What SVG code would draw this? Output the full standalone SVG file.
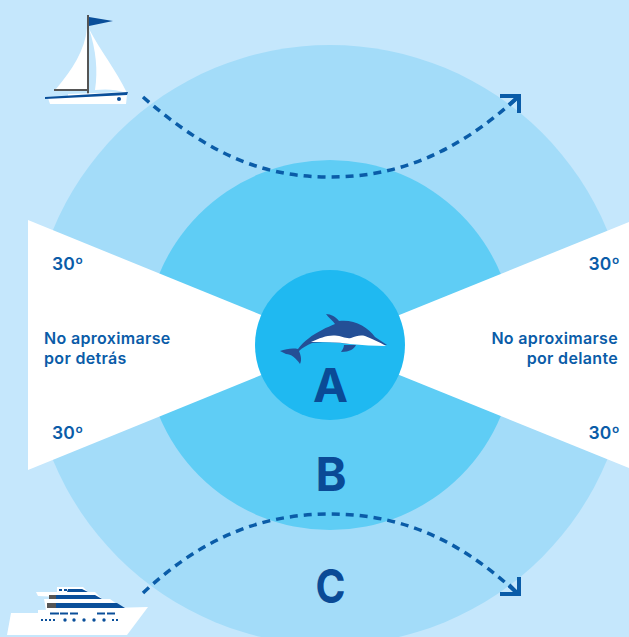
<svg xmlns="http://www.w3.org/2000/svg" width="629" height="637" viewBox="0 0 629 637">
<style>
.lbl{font-family:Inter,"Liberation Sans",sans-serif;font-weight:600;font-size:16px;letter-spacing:.33px;fill:#0a5ca8}
.deg{font-size:17.5px;letter-spacing:.2px}
.zone{font-family:Inter,"Liberation Sans",sans-serif;font-weight:700;font-size:47px;fill:#0a4a96;text-anchor:middle}
.route{fill:none;stroke:#0a5ca8;stroke-width:3.5;stroke-dasharray:8 6}
.head{fill:none;stroke:#0a5ca8;stroke-width:4}
.w{fill:#fff}.b{fill:#0a4f9a}.g{fill:#555}
</style>
<rect width="629" height="637" fill="#c5e7fc"/>
<g id="zone-c"><circle cx="330" cy="345" r="300" fill="#a3dcf9"/><text class="zone" x="330.500" y="603" textLength="30" lengthAdjust="spacingAndGlyphs">C</text></g>
<g id="zone-b"><circle cx="330" cy="345" r="185" fill="#5fcdf5"/></g>
<g id="wedge-left"><polygon class="w" points="28,220 330,343 330,347 28,470"/></g>
<g id="wedge-right"><polygon class="w" points="629,222 330,343 330,347 629,468"/></g>
<g id="zone-a"><circle cx="330" cy="345" r="75" fill="#1fb9f1"/><text class="zone" x="330.500" y="402">A</text></g>
<text class="zone" x="331" y="491">B</text>
<g id="labels-left">
<text class="lbl deg" x="52" y="270">30º</text>
<text class="lbl" x="44" y="344">No aproximarse</text>
<text class="lbl" x="44" y="364">por detrás</text>
<text class="lbl deg" x="52" y="439">30º</text>
</g>
<g id="labels-right" text-anchor="end">
<text class="lbl deg" x="620" y="270">30º</text>
<text class="lbl" x="618" y="344">No aproximarse</text>
<text class="lbl" x="618" y="364">por delante</text>
<text class="lbl deg" x="620" y="439">30º</text>
</g>
<g id="connectors">
<path class="route" d="M143 97C215 160 270 177 330 177C395 177 455 155 518 97"/>
<path class="head" d="M500 96H519V113M518 97L509 105"/>
<path class="route" d="M143 593C205 535 265 514 330 514C395 514 455 535 518 594"/>
<path class="head" d="M500 594H519V577M518 594L509 585"/>
</g>
<g id="sailboat">
<path class="w" d="M87 28C85 50 72 70 56 89H87Z"/>
<path class="w" d="M89 29C100 50 116 70 127 93C115 89 105 89 95 90C98 70 96 50 89 29Z"/>
<rect class="g" x="87" y="15" width="2" height="79"/>
<rect class="g" x="54" y="89" width="34" height="2"/>
<polygon class="b" points="89,17 113,21 89,26"/>
<polygon class="w" points="48,98 127,95 126,104 50,104"/>
<polygon class="w" points="68,94 127,92 127,94 68,96"/>
<polygon class="b" points="45,97 128,92 127,95 45,99"/>
<circle class="b" cx="119" cy="99" r="2"/>
</g>
<g id="yacht">
<polygon class="w" points="11,613 38,613 38,610 148,607 127,635 7,635"/>
<polygon class="w" points="44,599 110,599 125,610 46,610"/>
<polygon class="b" points="56,603 117,603 125,608 56,608"/>
<rect class="g" x="47" y="603" width="9" height="5"/>
<polygon class="w" points="36,592 95,592 102,599 38,596"/>
<polygon class="b" points="56,595 95,595 102,599 56,599"/>
<rect class="g" x="49" y="595" width="7" height="4"/>
<polygon class="w" points="57,587 83,587 88,592 57,592"/>
<polygon class="b" points="68,589 82,589 88,592 67,592"/>
<rect class="b" x="59" y="589" width="3" height="2"/><rect class="b" x="64" y="589" width="3" height="2"/>
<g class="b"><rect x="50" y="612.500" width="9" height="2"/><rect x="60" y="612.500" width="8" height="2"/><rect x="70" y="612.500" width="8" height="2"/><rect x="97" y="612.500" width="8" height="2"/><rect x="107" y="612.500" width="8" height="2"/>
<circle cx="65" cy="620" r="1.7"/><circle cx="74" cy="620" r="1.7"/><circle cx="84" cy="620" r="1.7"/><circle cx="94" cy="620" r="1.7"/><circle cx="104" cy="620" r="1.7"/>
<rect x="41" y="619" width="2" height="2"/><rect x="45" y="619" width="2" height="2"/><rect x="49" y="619" width="2" height="2"/><rect x="53" y="619" width="2" height="2"/><rect x="112" y="619" width="2" height="2"/><rect x="116" y="619" width="2" height="2"/></g>
</g>
<g id="dolphin">
<path d="M280 351C286 349 292 348 298 349C304 341 312 335 322 330C327 327 331 326 335 324C333 321 328 317 326 314C331 314 336 317 339 321C354 319 368 327 375 337C379 340 383 342 387 345L350 344C335 342 322 342 312 343C307 345 302 348 299 351C301 356 302 360 300 364C296 358 291 354 286 354C284 353 282 352 280 351Z" fill="#244f96"/>
<path class="w" d="M311 342C320 338 327 335 335 335.500C342 336 346 339 351 338C356 336 360 335 365 336C372 339 380 342 386 346C375 346 362 345 350 344C337 342 323 342 311 342Z"/>
<path d="M344 345H356C354 349 350 352 341 352C342 350 344 348 344 345Z" fill="#244f96"/>
</g>
</svg>
